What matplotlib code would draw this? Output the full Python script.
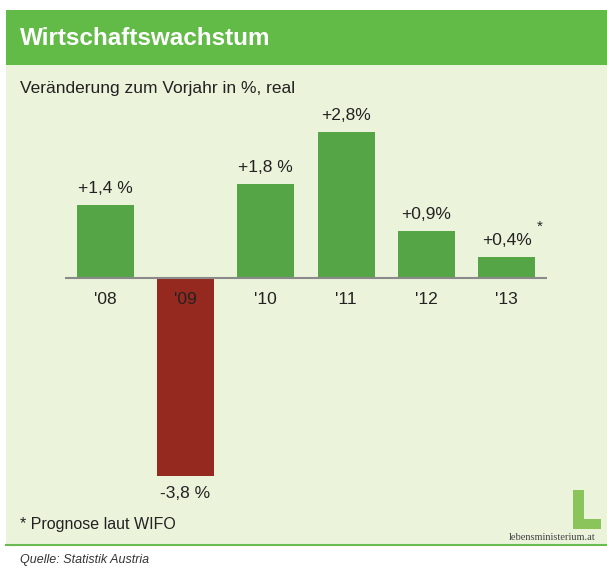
import matplotlib
matplotlib.use("Agg")
import matplotlib.pyplot as plt
from matplotlib.patches import Rectangle, Polygon

years = ["'08", "'09", "'10", "'11", "'12", "'13"]
values = [1.4, -3.8, 1.8, 2.8, 0.9, 0.4]
value_labels = ["+1,4 %", "-3,8 %", "+1,8 %", "+2,8%", "+0,9%", "+0,4%"]

W, H = 607, 569
fig = plt.figure(figsize=(W / 100, H / 100), dpi=100)
fig.patch.set_facecolor("white")
plt.rcParams["font.family"] = ["Liberation Sans", "DejaVu Sans"]

bg = fig.add_axes([0, 0, 1, 1])
bg.set_xlim(0, W)
bg.set_ylim(H, 0)
bg.axis("off")

# panels
bg.add_patch(Rectangle((6, 64), W - 6, 481, facecolor="#ebf3db", edgecolor="none"))
bg.add_patch(Rectangle((6, 10), W - 6, 55, facecolor="#62bb47", edgecolor="none"))
bg.plot([6, W], [545, 545], color="#6bbb55", lw=1.5)

bg.text(20, 38, "Wirtschaftswachstum", color="white", fontsize=17.5, fontweight="bold",
        va="center", ha="left")
bg.text(20, 88, "Veränderung zum Vorjahr in %, real", color="#222222", fontsize=12.5,
        va="center", ha="left")
bg.text(20, 524, "* Prognose laut WIFO", color="#222222", fontsize=11.5,
        va="center", ha="left")
bg.text(20, 560, "Quelle: Statistik Austria", color="#333333", fontsize=9,
        style="italic", va="center", ha="left")

# logo
bg.add_patch(Polygon([(573, 490), (584, 490), (584, 519), (601, 519), (601, 529), (573, 529)],
                     closed=True, facecolor="#8cc45c", edgecolor="none"))
bg.text(552, 537, "lebensministerium.at", color="#444444", fontsize=7.5,
        family=["Liberation Serif", "DejaVu Serif"], va="center", ha="center")

# chart
ax = fig.add_axes([65 / W, 1 - 500 / H, 482 / W, 400 / H])
ax.set_facecolor("none")
ax.set_xlim(-0.5, 5.5)
ax.set_ylim(-222 / 52, 178 / 52)
x = list(range(len(values)))
colors = ["#96291f" if v < 0 else "#55a546" for v in values]
ax.bar(x, values, width=0.71, color=colors, zorder=1)
ax.axhline(0, color="#8a8a8a", lw=1.5, zorder=2)
for xi, v, lab, yr in zip(x, values, value_labels, years):
    if v >= 0:
        ax.annotate(lab, (xi, v), xytext=(0, 17), textcoords="offset pixels",
                    ha="center", va="center", fontsize=12.5, color="#222222")
    else:
        ax.annotate(lab, (xi, v), xytext=(0, -18), textcoords="offset pixels",
                    ha="center", va="center", fontsize=12.5, color="#222222")
    ax.annotate(yr, (xi, 0), xytext=(0, -22), textcoords="offset pixels",
                ha="center", va="center", fontsize=12.5, color="#222222", zorder=3)
ax.annotate("*", (5, values[5]), xytext=(33, 30), textcoords="offset pixels",
            ha="center", va="center", fontsize=11, color="#222222")
ax.axis("off")

fig.savefig("out.png", dpi=100, facecolor="white")
